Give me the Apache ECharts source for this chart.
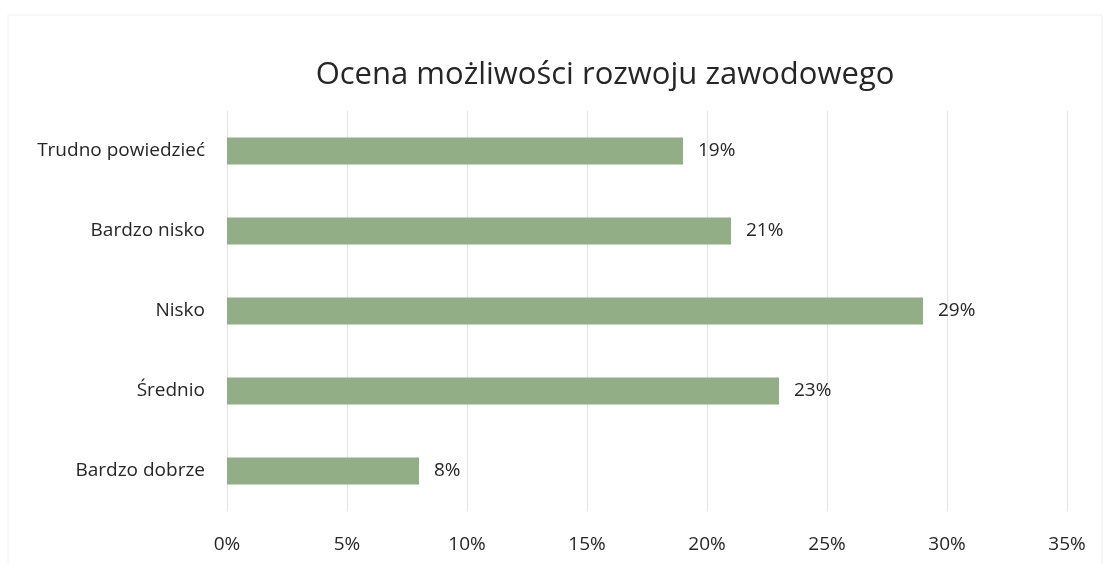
<!DOCTYPE html>
<html>
<head>
<meta charset="utf-8">
<script src="https://cdn.jsdelivr.net/npm/echarts@6/dist/echarts.min.js"></script>
<style>html,body{margin:0;padding:0;background:#fff;}#c{width:1110px;height:564px;}</style>
</head>
<body>
<div id="c"></div>
<script>
const categories = ['Bardzo dobrze', 'Średnio', 'Nisko', 'Bardzo nisko', 'Trudno powiedzieć'];
const values = [8, 23, 29, 21, 19];
const titleText = 'Ocena możliwości rozwoju zawodowego';

const chart = echarts.init(document.getElementById('c'));
const font = '"Open Sans", Lato, sans-serif';
chart.setOption({
  backgroundColor: '#fff',
  title: {
    text: titleText,
    left: 600,
    textAlign: 'center',
    top: 55,
    textStyle: { fontFamily: font, fontSize: 31, fontWeight: 'normal', color: '#262626' }
  },
  graphic: [{
    type: 'rect', shape: { x: 8, y: 15, width: 1094, height: 550 },
    style: { fill: 'none', stroke: '#f0f0f0', lineWidth: 1 }, silent: true
  }],
  grid: { left: 227, right: 43, top: 111, bottom: 53 },
  xAxis: {
    type: 'value', min: 0, max: 35, interval: 5,
    axisLine: { show: false }, axisTick: { show: false },
    splitLine: { show: true, lineStyle: { color: '#e4e4e4', width: 1 } },
    axisLabel: { formatter: '{value}%', margin: 24, fontFamily: font, fontSize: 19, color: '#262626' }
  },
  yAxis: {
    type: 'category', data: categories,
    axisLine: { show: false }, axisTick: { show: false },
    axisLabel: { margin: 22, fontFamily: font, fontSize: 19, color: '#262626' }
  },
  series: [{
    type: 'bar', data: values, barWidth: 27,
    itemStyle: { color: '#92ae86' },
    label: { show: true, position: 'right', distance: 15, formatter: '{c}%', fontFamily: font, fontSize: 19, color: '#262626' }
  }],
  animation: false
});
</script>
</body>
</html>
